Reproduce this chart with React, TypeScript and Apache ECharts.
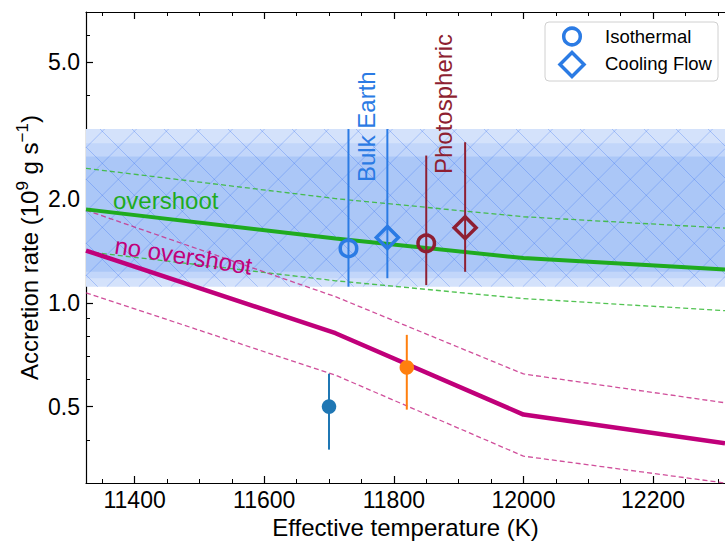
import React, { useEffect, useRef } from 'react';
import * as echarts from 'echarts';

// ---- axis ranges / ticks ----
const X_MIN = 11325;
const X_MAX = 12311;
const Y_MIN = 0.3;
const Y_MAX = 7;
const xMajorTicks = [11400, 11600, 11800, 12000, 12200];
const xMinorTicks = [11350, 11450, 11500, 11550, 11650, 11700, 11750, 11850, 11900, 11950, 12050, 12100, 12150, 12250, 12300];
const yMajorTicks = [0.5, 1.0, 2.0, 5.0];
const yMinorTicks = [0.4, 0.6, 0.7, 0.8, 0.9, 3, 4, 6];

// ---- model curves ----
const modelTeff = [11325, 11710, 12000, 12311];
const overshoot = [1.87, 1.54, 1.35, 1.25];
const overshootUpper = [2.46, 2.01, 1.78, 1.65];
const overshootLower = [1.41, 1.16, 1.03, 0.95];
const noOvershoot = [1.42, 0.817, 0.474, 0.391];
const noOvershootUpper = [1.86, 1.043, 0.622, 0.513];
const noOvershootLower = [1.07, 0.617, 0.359, 0.3];

// ---- shaded bands (outer, middle, inner) ----
const bandTop = [3.2, 2.91, 2.665];
const bandBottom = [1.115, 1.18, 1.232];

// ---- measurements ----
const bulkEarthTeff = [11730, 11790];
const bulkEarthRate = [1.44, 1.55];
const bulkEarthLow = [1.115, 1.18];
const bulkEarthHigh = [3.2, 3.2];

const photoTeff = [11850, 11910];
const photoRate = [1.49, 1.655];
const photoLow = [1.127, 1.232];
const photoHigh = [2.68, 2.93];

const pointATeff = [11700];
const pointARate = [0.5];
const pointALow = [0.375];
const pointAHigh = [0.623];

const pointBTeff = [11820];
const pointBRate = [0.65];
const pointBLow = [0.49];
const pointBHigh = [0.808];

const legendNames = ['Isothermal', 'Cooling Flow'];

const L = (v: number) => Math.log10(v);
const FONT = '"Liberation Sans", Arial, Helvetica, sans-serif';

const GREEN = '#1fab1f';
const MAGENTA = '#c0007a';
const BLUE = '#2b7be4';
const DARKRED = '#8e1f32';
const BAND_COLORS = ['#d4e2fb', '#c2d6fa', '#abc7f7'];

function lineSeries(name: string, ys: number[], color: string, width: number, dashed: boolean) {
  return {
    type: 'line',
    name,
    data: modelTeff.map((x, i) => [x, L(ys[i])]),
    symbol: 'none',
    smooth: false,
    lineStyle: { color, width, type: dashed ? [5, 3] : 'solid', opacity: dashed ? 0.85 : 1 },
    z: 3,
    silent: true,
  };
}

function errorBars(name: string, xs: number[], lo: number[], hi: number[], color: string, width: number) {
  return {
    type: 'custom',
    name,
    data: xs.map((x, i) => [x, L(lo[i]), L(hi[i])]),
    renderItem: (_p: any, api: any) => {
      const a = api.coord([api.value(0), api.value(1)]);
      const b = api.coord([api.value(0), api.value(2)]);
      return {
        type: 'line',
        shape: { x1: a[0], y1: a[1], x2: b[0], y2: b[1] },
        style: { stroke: color, lineWidth: width },
      };
    },
    z: 4,
    silent: true,
  };
}

function markers(name: string, xs: number[], ys: number[], symbol: string, size: number, fill: string, stroke: string, bw: number) {
  return {
    type: 'scatter',
    name,
    data: xs.map((x, i) => [x, L(ys[i])]),
    symbol,
    symbolSize: size,
    itemStyle: { color: fill, borderColor: stroke, borderWidth: bw, opacity: 1 },
    z: 5,
    silent: true,
  };
}

export default function App() {
  const ref = useRef<HTMLDivElement>(null);
  useEffect(() => {
    document.body.style.margin = '0';
    if (!ref.current) return;
    const chart = echarts.init(ref.current, undefined, { renderer: 'svg' });

    const hatch = {
      type: 'custom',
      name: 'hatch',
      data: [[0]],
      silent: true,
      z: 2,
      renderItem: (_p: any, api: any) => {
        const p0 = api.coord([X_MIN, L(bandTop[0])]);
        const p1 = api.coord([X_MAX, L(bandBottom[0])]);
        const x0 = p0[0], y0 = p0[1], x1 = p1[0], y1 = p1[1];
        const s = 32;
        const children: any[] = [];
        const st = { stroke: 'rgba(40,100,240,0.28)', lineWidth: 1 };
        // family y = x + c
        const cA0 = -355;
        let c = cA0 + s * Math.ceil(((y0 - x1) - cA0) / s);
        for (; c <= y1 - x0; c += s) {
          const xa = Math.max(x0, y0 - c);
          const xb = Math.min(x1, y1 - c);
          if (xb > xa) children.push({ type: 'line', shape: { x1: xa, y1: xa + c, x2: xb, y2: xb + c }, style: st });
        }
        // family y = -x + c
        const cB0 = 681.6;
        c = cB0 + s * Math.ceil(((x0 + y0) - cB0) / s);
        for (; c <= x1 + y1; c += s) {
          const xa = Math.max(x0, c - y1);
          const xb = Math.min(x1, c - y0);
          if (xb > xa) children.push({ type: 'line', shape: { x1: xa, y1: c - xa, x2: xb, y2: c - xb }, style: st });
        }
        return { type: 'group', children };
      },
    };

    const bands = {
      type: 'line',
      name: 'bands',
      data: [],
      silent: true,
      z: 1,
      markArea: {
        silent: true,
        data: bandTop.map((t, i) => [
          { yAxis: L(t), itemStyle: { color: BAND_COLORS[i], opacity: 1 } },
          { yAxis: L(bandBottom[i]) },
        ]),
      },
    };

    const axisCommon = {
      type: 'value',
      splitLine: { show: false },
    };

    const option: any = {
      animation: false,
      textStyle: { fontFamily: FONT },
      grid: { left: 86, top: 12, width: 639, height: 471, containLabel: false, outerBoundsMode: 'none' },
      xAxis: [
        {
          ...axisCommon,
          position: 'bottom',
          min: X_MIN,
          max: X_MAX,
          axisLine: { show: true, onZero: false, lineStyle: { color: '#000', width: 1.2 } },
          axisTick: { show: true, inside: true, length: 7, customValues: xMajorTicks, lineStyle: { color: '#000', width: 1.2 } },
          axisLabel: { show: true, customValues: xMajorTicks, fontSize: 23, color: '#000', margin: 5, fontFamily: FONT, formatter: (v: number) => String(Math.round(v)) },
          name: 'Effective temperature (K)',
          nameLocation: 'middle',
          nameGap: 25,
          nameTextStyle: { fontSize: 24, color: '#000', fontFamily: FONT },
        },
        {
          ...axisCommon,
          position: 'bottom',
          min: X_MIN,
          max: X_MAX,
          axisLine: { show: false, onZero: false },
          axisTick: { show: true, inside: true, length: 4, customValues: xMinorTicks, lineStyle: { color: '#000', width: 1 } },
          axisLabel: { show: false },
        },
        {
          ...axisCommon,
          position: 'top',
          min: X_MIN,
          max: X_MAX,
          axisLine: { show: true, onZero: false, lineStyle: { color: '#000', width: 1.2 } },
          axisTick: { show: true, inside: true, length: 7, customValues: xMajorTicks, lineStyle: { color: '#000', width: 1.2 } },
          axisLabel: { show: false },
        },
        {
          ...axisCommon,
          position: 'top',
          min: X_MIN,
          max: X_MAX,
          axisLine: { show: false, onZero: false },
          axisTick: { show: true, inside: true, length: 4, customValues: xMinorTicks, lineStyle: { color: '#000', width: 1 } },
          axisLabel: { show: false },
        },
      ],
      yAxis: [
        {
          ...axisCommon,
          position: 'left',
          min: L(Y_MIN),
          max: L(Y_MAX),
          axisLine: { show: true, onZero: false, lineStyle: { color: '#000', width: 1.2 } },
          axisTick: { show: true, inside: true, length: 7, customValues: yMajorTicks.map(L), lineStyle: { color: '#000', width: 1.2 } },
          axisLabel: {
            show: true,
            customValues: yMajorTicks.map(L),
            fontSize: 23,
            color: '#000',
            margin: 6,
            fontFamily: FONT,
            formatter: (v: number) => Math.pow(10, v).toFixed(1),
          },
          name: 'Accretion rate (10{sup|9} g s{sup|\u22121})',
          nameLocation: 'middle',
          nameRotate: 90,
          nameGap: 42,
          nameMoveOverlap: false,
          nameTextStyle: {
            fontSize: 24,
            color: '#000',
            fontFamily: FONT,
            lineHeight: 30,
            rich: { sup: { fontSize: 17, verticalAlign: 'top', lineHeight: 17, color: '#000', fontFamily: FONT } },
          },
        },
        {
          ...axisCommon,
          position: 'left',
          min: L(Y_MIN),
          max: L(Y_MAX),
          axisLine: { show: false, onZero: false },
          axisTick: { show: true, inside: true, length: 4, customValues: yMinorTicks.map(L), lineStyle: { color: '#000', width: 1 } },
          axisLabel: { show: false },
        },
      ],
      series: [
        bands,
        hatch,
        lineSeries('overshoot upper', overshootUpper, '#33b833', 1.3, true),
        lineSeries('overshoot lower', overshootLower, '#33b833', 1.3, true),
        lineSeries('no overshoot upper', noOvershootUpper, '#c8308a', 1.3, true),
        lineSeries('no overshoot lower', noOvershootLower, '#c8308a', 1.3, true),
        lineSeries('overshoot', overshoot, GREEN, 4, false),
        lineSeries('no overshoot', noOvershoot, MAGENTA, 4.5, false),
        errorBars('Bulk Earth err', bulkEarthTeff, bulkEarthLow, bulkEarthHigh, BLUE, 2),
        errorBars('Photospheric err', photoTeff, photoLow, photoHigh, DARKRED, 2),
        errorBars('A err', pointATeff, pointALow, pointAHigh, '#1f77b4', 2),
        errorBars('B err', pointBTeff, pointBLow, pointBHigh, '#ff7f0e', 2),
        markers('Bulk Earth isothermal', [bulkEarthTeff[0]], [bulkEarthRate[0]], 'circle', 16.5, 'rgba(0,0,0,0)', BLUE, 3.5),
        markers('Bulk Earth cooling flow', [bulkEarthTeff[1]], [bulkEarthRate[1]], 'diamond', 22, 'rgba(0,0,0,0)', BLUE, 3.5),
        markers('Photospheric isothermal', [photoTeff[0]], [photoRate[0]], 'circle', 16.5, 'rgba(0,0,0,0)', DARKRED, 3.5),
        markers('Photospheric cooling flow', [photoTeff[1]], [photoRate[1]], 'diamond', 22, 'rgba(0,0,0,0)', DARKRED, 3.5),
        markers('A', pointATeff, pointARate, 'circle', 14.5, '#1f77b4', '#1f77b4', 0),
        markers('B', pointBTeff, pointBRate, 'circle', 14.5, '#ff7f0e', '#ff7f0e', 0),
      ],
      graphic: [
        { type: 'text', x: 366, y: 182, rotation: Math.PI / 2, z: 10, silent: true,
          style: { text: 'Bulk Earth', fill: BLUE, fontSize: 24, fontFamily: FONT, align: 'left', verticalAlign: 'middle' } },
        { type: 'text', x: 443, y: 174, rotation: Math.PI / 2, z: 10, silent: true,
          style: { text: 'Photospheric', fill: DARKRED, fontSize: 24, fontFamily: FONT, align: 'left', verticalAlign: 'middle' } },
        { type: 'text', x: 113, y: 200, z: 10, silent: true,
          style: { text: 'overshoot', fill: GREEN, fontSize: 24, fontFamily: FONT, align: 'left', verticalAlign: 'middle' } },
        { type: 'text', x: 115, y: 245, rotation: -0.155, z: 10, silent: true,
          style: { text: 'no overshoot', fill: MAGENTA, fontSize: 24, fontFamily: FONT, align: 'left', verticalAlign: 'middle' } },
        // legend
        { type: 'rect', z: 20, silent: true, shape: { x: 545, y: 22, width: 173, height: 59, r: 4 },
          style: { fill: 'rgba(255,255,255,0.9)', stroke: '#d0d0d0', lineWidth: 1 } },
        { type: 'circle', z: 21, silent: true, shape: { cx: 572, cy: 36.5, r: 8.3 },
          style: { fill: 'none', stroke: BLUE, lineWidth: 3.5 } },
        { type: 'polygon', z: 21, silent: true, shape: { points: [[572, 52.5], [584, 64.5], [572, 76.5], [560, 64.5]] },
          style: { fill: 'none', stroke: BLUE, lineWidth: 3.5 } },
        { type: 'text', x: 605, y: 36.5, z: 21, silent: true,
          style: { text: legendNames[0], fill: '#000', fontSize: 18.5, fontFamily: FONT, align: 'left', verticalAlign: 'middle' } },
        { type: 'text', x: 605, y: 63.5, z: 21, silent: true,
          style: { text: legendNames[1], fill: '#000', fontSize: 18.5, fontFamily: FONT, align: 'left', verticalAlign: 'middle' } },
      ],
    };
    chart.setOption(option);
    return () => chart.dispose();
  }, []);
  return <div ref={ref} style={{ width: 725, height: 542 }} />;
}
